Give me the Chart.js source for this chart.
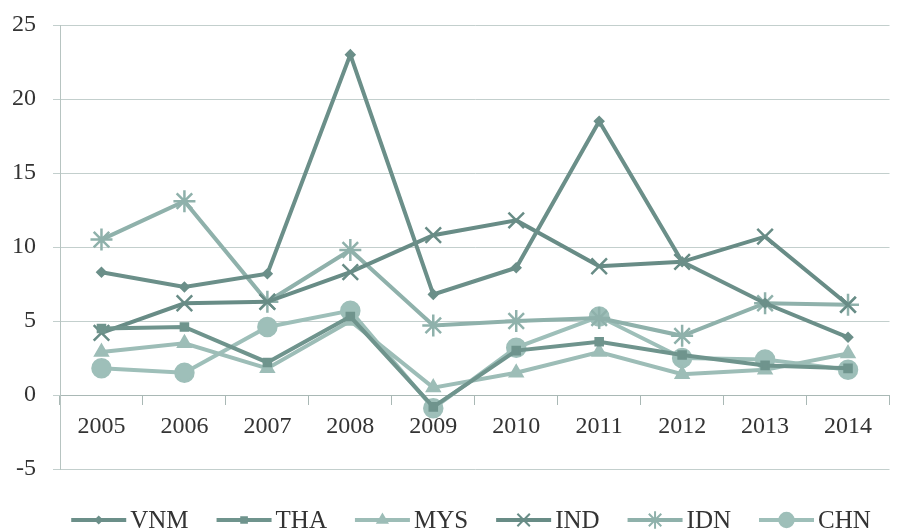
<!DOCTYPE html>
<html>
<head>
<meta charset="utf-8">
<script src="https://cdn.jsdelivr.net/npm/chart.js@4"></script>
<style>
  html, body { margin: 0; padding: 0; background: #ffffff; }
  #wrap { width: 903px; height: 532px; }
</style>
</head>
<body>
<div id="wrap"><canvas id="chart1" width="903" height="532"></canvas></div>
<script>
const years = ['2005', '2006', '2007', '2008', '2009', '2010', '2011', '2012', '2013', '2014'];
const yTicks = [-5, 0, 5, 10, 15, 20, 25];

const vnm = [8.3, 7.3, 8.2, 23.0, 6.8, 8.6, 18.5, 9.0, 6.2, 3.9];
const tha = [4.5, 4.6, 2.2, 5.3, -0.8, 3.0, 3.6, 2.7, 2.0, 1.8];
const mys = [2.9, 3.5, 1.8, 5.0, 0.5, 1.5, 2.9, 1.4, 1.7, 2.8];
const ind = [4.2, 6.2, 6.3, 8.3, 10.8, 11.8, 8.7, 9.0, 10.7, 6.1];
const idn = [10.5, 13.1, 6.3, 9.8, 4.7, 5.0, 5.2, 4.0, 6.2, 6.1];
const chn = [1.8, 1.5, 4.6, 5.7, -0.9, 3.2, 5.3, 2.5, 2.4, 1.7];

const serif = '"Liberation Serif", "Times New Roman", serif';

const series = [
    { label: 'VNM', data: vnm, color: '#6b8f89', style: 'rectRot', radius: 4 },
    { label: 'THA', data: tha, color: '#6f948d', style: 'rect', radius: 5 },
    { label: 'MYS', data: mys, color: '#9dbdb7', style: 'triangle', radius: 7 },
    { label: 'IND', data: ind, color: '#688c86', style: 'crossRot', radius: 11 },
    { label: 'IDN', data: idn, color: '#8fb1ab', style: 'star', radius: 11 },
    { label: 'CHN', data: chn, color: '#9ebfb9', style: 'circle', radius: 9 }
];

// legend drawn by hand: short line with the marker in the middle, then the name
const bottomLegend = {
    id: 'bottomLegend',
    afterDraw(chart) {
        const g = chart.ctx;
        const lineLen = 55, gap = 4, itemGap = 28, yMid = 520;
        g.save();
        g.font = '25px ' + serif;
        g.textBaseline = 'middle';
        const widths = series.map(s => lineLen + gap + g.measureText(s.label).width);
        const total = widths.reduce((a, b) => a + b, 0) + itemGap * (series.length - 1);
        let x = 471 - total / 2;
        series.forEach((s, i) => {
            g.strokeStyle = s.color;
            g.fillStyle = s.color;
            g.lineWidth = 4;
            g.beginPath(); g.moveTo(x, yMid); g.lineTo(x + lineLen, yMid); g.stroke();
            g.lineWidth = 2;
            Chart.helpers.drawPoint(g, { pointStyle: s.style, rotation: 0, radius: s.radius * 0.8, borderWidth: 2 }, x + lineLen / 2, yMid);
            g.fillStyle = '#333333';
            g.fillText(s.label, x + lineLen + gap, yMid + 1);
            x += widths[i] + itemGap;
        });
        g.restore();
    }
};

const ctx1 = document.getElementById('chart1').getContext('2d');

const chart1 = new Chart(ctx1, {
    type: 'line',
    data: {
        labels: years,
        datasets: series.map(s => ({
            label: s.label,
            data: s.data,
            borderColor: s.color,
            backgroundColor: s.color,
            borderWidth: 4,
            pointStyle: s.style,
            pointRadius: s.radius,
            pointBorderWidth: 2.5,
            pointBorderColor: s.color,
            pointBackgroundColor: s.color,
            tension: 0,
            fill: false
        }))
    },
    options: {
        responsive: false,
        animation: false,
        layout: { padding: { top: 0, right: 6, left: -5, bottom: 63 } },
        plugins: {
            tooltip: { enabled: false },
            legend: { display: false }
        },
        scales: {
            x: {
                position: { y: 0 },
                offset: true,
                afterFit: function (scale) {
                    // the year labels sit inside the offset, no extra room needed at the ends
                    scale.paddingLeft = 0;
                    scale.paddingRight = 0;
                },
                grid: {
                    display: true,
                    drawOnChartArea: false,
                    drawTicks: true,
                    tickLength: 9,
                    offset: true,
                    color: '#a9b8b5'
                },
                border: { display: true, color: '#a9b8b5', width: 1 },
                ticks: {
                    color: '#333333',
                    padding: 8,
                    font: { family: serif, size: 24 },
                    maxRotation: 0
                }
            },
            y: {
                min: -5,
                max: 25,
                afterBuildTicks: function (axis) {
                    axis.ticks = yTicks.map(v => ({ value: v }));
                },
                grid: {
                    color: '#c3cfcd',
                    lineWidth: 1,
                    drawTicks: true,
                    tickLength: 7
                },
                border: { display: true, color: '#b7c4c1', width: 1 },
                ticks: {
                    color: '#333333',
                    padding: 17,
                    font: { family: serif, size: 24, lineHeight: 0.67 }
                }
            }
        }
    },
    plugins: [bottomLegend]
});
</script>
</body>
</html>
